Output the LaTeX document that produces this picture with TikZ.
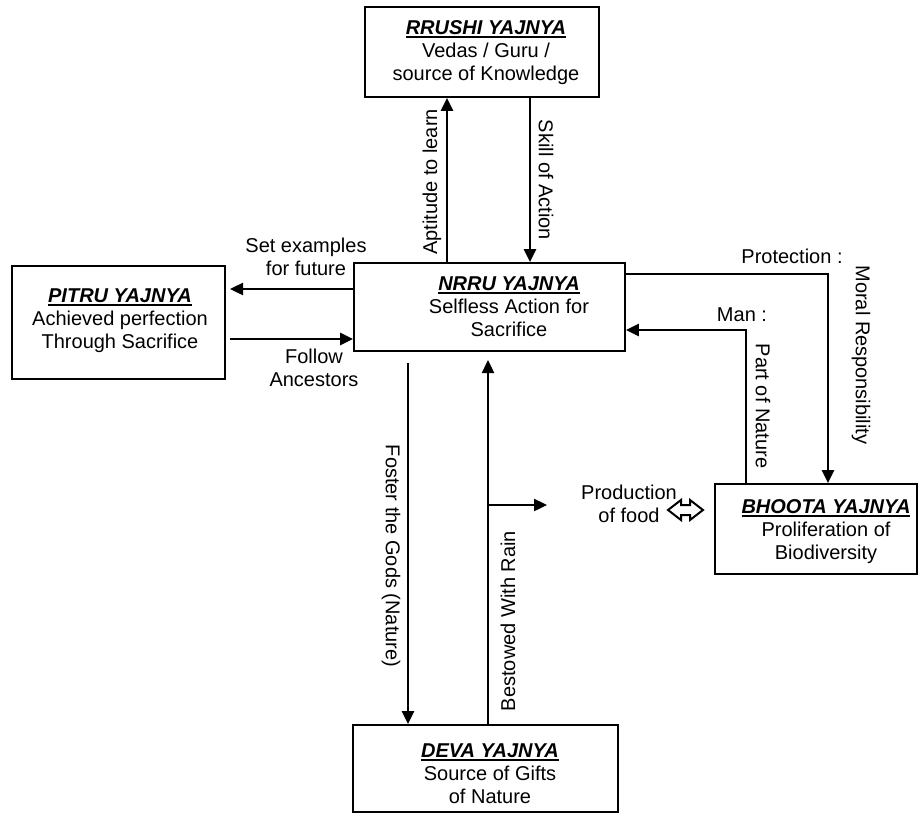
\documentclass[tikz,border=0pt]{standalone}
\usepackage{fontspec}
\setmainfont{Liberation Sans}
\usetikzlibrary{arrows.meta}
\newcommand\yttl[1]{\leavevmode\vtop{\hbox{\bfseries\itshape #1}\kern1.2pt\hrule height 1.8pt}}
\begin{document}
\begin{tikzpicture}[x=1pt,y=-1pt,
  box/.style={draw, line width=1.7pt, inner sep=0pt},
  txt/.style={font=\fontsize{20}{23}\selectfont, align=center, inner sep=0pt},
  lab/.style={font=\fontsize{20}{23}\selectfont, align=center, inner sep=0pt},
  arr/.style={line width=2.4pt, -{Triangle[length=13pt,width=12pt]}}]
\useasboundingbox (0,0) rectangle (919,814);
% boxes
\node[box, minimum width=234pt, minimum height=90pt] (rrushi) at (482,52) {};
\node[txt] (rrushit) at (486,53) {\yttl{RRUSHI YAJNYA}\\Vedas / Guru /\\source of Knowledge};
\node[box, minimum width=213pt, minimum height=113pt] (pitru) at (118.5,322.5) {};
\node[txt] (pitrut) at (120,321) {\yttl{PITRU YAJNYA}\\Achieved perfection\\Through Sacrifice};
\node[box, minimum width=271pt, minimum height=88pt] (nrru) at (489.5,307) {};
\node[txt] (nrrut) at (509,307) {\yttl{NRRU YAJNYA}\\Selfless Action for\\Sacrifice};
\node[box, minimum width=202pt, minimum height=90pt] (bhoota) at (816,529) {};
\node[txt] (bhootat) at (826,532) {\yttl{BHOOTA YAJNYA}\\Proliferation of\\Biodiversity};
\node[box, minimum width=265pt, minimum height=87pt] (deva) at (485.5,768.5) {};
\node[txt] (devat) at (490,774) {\yttl{DEVA YAJNYA}\\Source of Gifts\\of Nature};
% helper coordinates
\coordinate (ax) at (447,0);
\coordinate (sx) at (530,0);
\coordinate (ey) at (0,289);
\coordinate (fy) at (0,339);
\coordinate (pe) at (230,322);
\coordinate (px) at (828,0);
\coordinate (py) at (0,274);
\coordinate (mx) at (746,0);
\coordinate (my) at (0,330);
\coordinate (fx) at (408,0);
\coordinate (fs) at (0,363);
\coordinate (bx) at (488,0);
\coordinate (be) at (0,360);
\coordinate (brend) at (547,505);
% connectors
\draw[arr] (ax |- nrru.north) -- (ax |- rrushi.south);
\draw[arr] (sx |- rrushi.south) -- (sx |- nrru.north);
\draw[arr] (nrru.west |- ey) -- (pe |- ey);
\draw[arr] (pe |- fy) -- (nrru.west |- fy);
\draw[arr] (nrru.east |- py) -| (px |- bhoota.north);
\draw[arr] (mx |- bhoota.north) |- (nrru.east |- my);
\draw[arr] (fx |- fs) -- (fx |- deva.north);
\draw[arr] (bx |- deva.north) -- (bx |- be);
\draw[arr] (bx |- brend) -- (brend);
% labels
\node[lab, rotate=90] (l1) at (432,182) {Aptitude to learn};
\node[lab, rotate=-90] (l2) at (546,180) {Skill of Action};
\node[lab] (l3) at (306,257) {Set examples\\for future};
\node[lab] (l4) at (314,368) {Follow\\Ancestors};
\node[lab] (l5) at (792,256) {Protection :};
\node[lab, rotate=-90] (l6) at (861,355) {Moral Responsibility};
\node[lab] (l7) at (742,315) {Man :};
\node[lab, rotate=-90] (l8) at (763,406) {Part of Nature};
\node[lab] (l9) at (629,504) {Production\\of food};
\node[lab, rotate=-90] (l10) at (391,556) {Foster the Gods (Nature)};
\node[lab, rotate=90] (l11) at (508,621) {Bestowed With Rain};
% hollow double arrow symbol
\draw[line width=2pt, line join=miter] (668,510) -- (681,500) -- (681,505) -- (690,505) -- (690,500) -- (703,510) -- (690,520) -- (690,515) -- (681,515) -- (681,520) -- cycle;
\end{tikzpicture}
\end{document}
